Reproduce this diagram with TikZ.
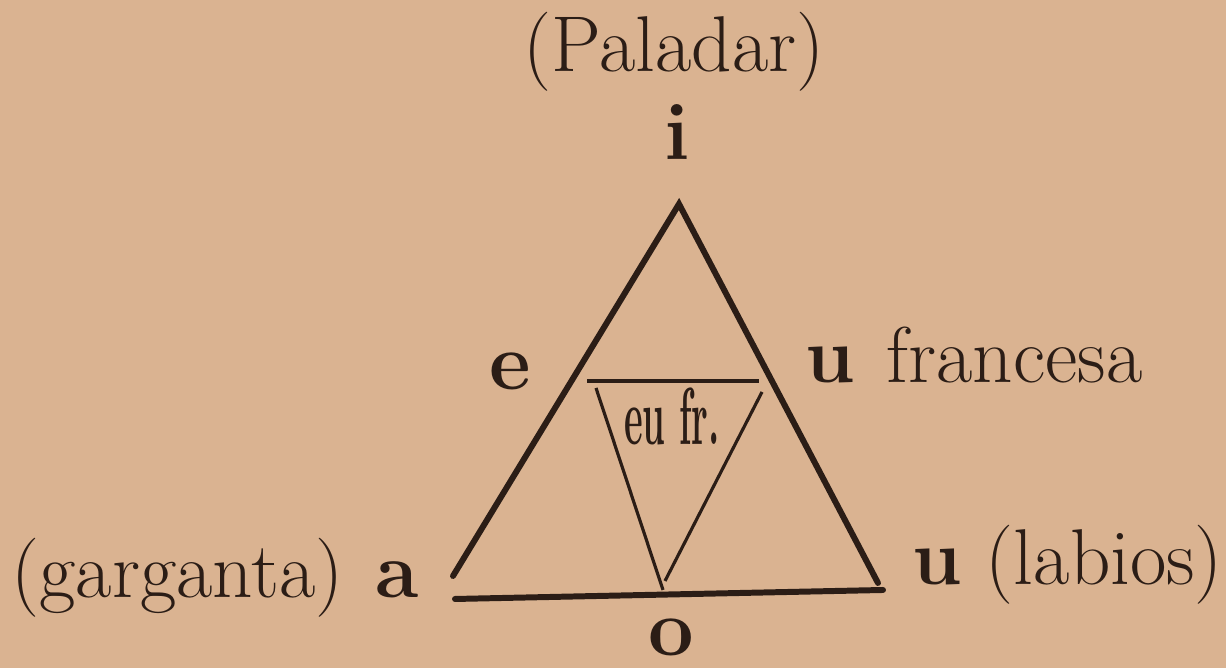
\documentclass[tikz,border=0pt]{standalone}
\usepackage{tikz}
\usetikzlibrary{positioning}
\definecolor{PaperTan}{HTML}{DAB391}
\definecolor{InkBrown}{HTML}{2B1D16}

\begin{document}
\begin{tikzpicture}[x=0.01cm, y=-0.01cm,
  word/.style={inner sep=0pt, text=InkBrown, font=\fontsize{22.5}{26}\selectfont},
  vowel/.style={inner sep=0pt, text=InkBrown, font=\fontsize{23}{26}\selectfont\bfseries},
  heavy/.style={draw=InkBrown, line width=1.7pt, line cap=round},
  light/.style={draw=InkBrown, line width=0.9pt}
]
% Paper
\fill[PaperTan] (0,0) rectangle (1226,668);
\useasboundingbox (0,0) rectangle (1226,668);

% Big triangle
\coordinate (apex) at (679,204);
\coordinate (footL) at (453,576);
\coordinate (footR) at (878,583);
\coordinate (baseL) at (455,599);
\coordinate (baseR) at (883,590);
\draw[heavy] (footL) -- (apex) -- (footR);
\draw[heavy] (baseL) -- (baseR);

% Inner triangle (eu)
\coordinate (capL) at (587,381);
\coordinate (capR) at (759,381);
\coordinate (legL) at (596,388);
\coordinate (legR) at (762,392);
\coordinate (tipL) at (663,590);
\coordinate (tipR) at (665,581);
\draw[light] (capL) -- (capR);
\draw[light] (legL) -- (tipL);
\draw[light] (legR) -- (tipR);
\node[inner sep=0pt, text=InkBrown, font=\fontsize{23}{26}\selectfont\bfseries, anchor=base] (eu) at (672,445) {\scalebox{0.45}[1]{eu fr.}};

% Vowels and places
\node[word, anchor=base] (paladar) at (674,72) {(Paladar)};
\node[vowel, anchor=base] (i) at (677,160) {i};
\node[vowel, anchor=base] (e) at (510,390) {e};
\node[word, anchor=base west] (ufr) at (805,383) {\textbf{u}\hspace{0.4em}francesa};
\node[word, anchor=base east] (a) at (419,598) {(garganta)\hspace{0.4em}\textbf{a}};
\node[word, anchor=base west] (ulab) at (912,585) {\textbf{u}\hspace{0.3em}(labios)};
\node[vowel, anchor=base] (o) at (671,656) {o};
\end{tikzpicture}
\end{document}
